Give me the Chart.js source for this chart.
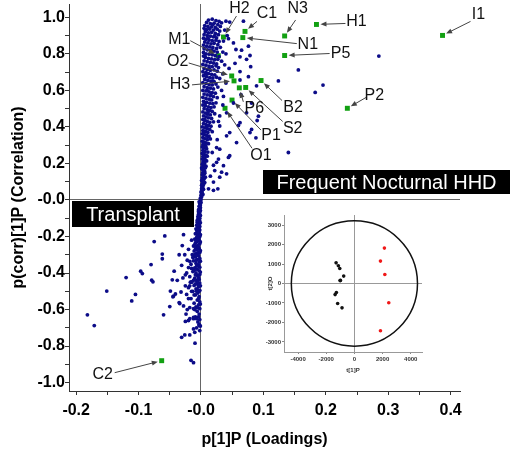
<!DOCTYPE html>
<html>
<head>
<meta charset="utf-8">
<script src="https://cdn.jsdelivr.net/npm/chart.js@4/dist/chart.umd.min.js"></script>
<style>
  html, body { margin: 0; padding: 0; background: #fff; }
  #wrap { position: relative; width: 513px; height: 453px; }
  #main { position: absolute; left: 0; top: 0; }
  #inset { position: absolute; left: 255px; top: 205px; }
</style>
</head>
<body>
<div id="wrap">
  <canvas id="main" width="513" height="453"></canvas>
  <canvas id="inset" width="175" height="180"></canvas>
</div>
<script>
// ---- data read from the S-plot ----
// dense band of variables around p[1]P = 0
var bandPoints = [
    [0.012,0.985],[0.018,0.99],[0.024,0.982],[0.029,0.978],[0.033,0.97],[0.009,0.972],[0.015,0.965],[0.021,0.968],[0.027,0.96],[0.006,0.955],[0.011,0.95],[0.017,0.948],[0.023,0.945],[0.031,0.95],
    [0.005,0.94],[0.009,0.932],[0.014,0.936],[0.02,0.93],[0.026,0.935],[0.03,0.925],[0.007,0.92],[0.012,0.915],[0.017,0.918],[0.023,0.912],[0.028,0.905],[0.005,0.905],[0.01,0.9],[0.015,0.897],
    [0.02,0.893],[0.025,0.888],[0.004,0.886],[0.008,0.88],[0.013,0.876],[0.018,0.872],[0.024,0.875],[0.029,0.868],[0.006,0.865],[0.011,0.86],[0.016,0.855],[0.021,0.858],[0.027,0.85],[0.004,0.848],
    [0.009,0.842],[0.014,0.838],[0.019,0.835],[0.025,0.83],[0.031,0.836],[0.005,0.828],[0.01,0.822],[0.015,0.818],[0.021,0.815],[0.026,0.81],[0.004,0.808],[0.008,0.8],[0.013,0.798],[0.018,0.795],[0.035,0.81],
    [0.023,0.79],[0.029,0.785],[0.004,0.788],[0.007,0.78],[0.012,0.775],[0.017,0.772],[0.022,0.768],[0.027,0.77],[0.005,0.762],[0.01,0.757],[0.015,0.753],[0.02,0.75],[0.033,0.76],
    [0.003,0.742],[0.008,0.738],[0.013,0.733],[0.018,0.73],[0.024,0.735],[0.028,0.725],[0.005,0.72],[0.01,0.715],[0.015,0.71],[0.021,0.712],[0.026,0.705],[0.003,0.702],[0.008,0.698],
    [0.012,0.692],[0.017,0.688],[0.022,0.685],[0.004,0.68],[0.009,0.675],[0.014,0.67],[0.019,0.668],[0.025,0.672],[0.03,0.665],[0.006,0.66],[0.011,0.655],[0.016,0.65],[0.021,0.648],
    [0.003,0.642],[0.008,0.638],[0.013,0.632],[0.018,0.63],[0.024,0.635],[0.005,0.62],[0.01,0.615],[0.015,0.612],[0.02,0.608],[0.027,0.618],[0.003,0.6],[0.008,0.597],[0.013,0.592],
    [0.018,0.588],[0.023,0.585],[0.005,0.58],[0.01,0.575],[0.015,0.57],[0.02,0.566],[0.003,0.562],[0.008,0.556],[0.013,0.552],[0.017,0.548],[0.026,0.56],
    [0.004,0.54],[0.009,0.535],[0.014,0.53],[0.019,0.527],[0.024,0.532],[0.003,0.52],[0.007,0.515],[0.012,0.51],[0.016,0.506],[0.021,0.51],[0.005,0.5],[0.01,0.495],
    [0.014,0.49],[0.018,0.485],[0.003,0.482],[0.007,0.476],[0.011,0.47],[0.015,0.466],[0.022,0.472],[0.004,0.46],[0.008,0.455],[0.012,0.45],[0.017,0.446],
    [0.003,0.44],[0.006,0.434],[0.01,0.43],[0.014,0.425],[0.02,0.428],[0.004,0.418],[0.008,0.412],[0.012,0.408],[0.016,0.404],[0.002,0.4],[0.006,0.395],
    [0.01,0.39],[0.014,0.386],[0.003,0.38],[0.007,0.375],[0.011,0.37],[0.018,0.374],[0.002,0.362],[0.005,0.358],[0.009,0.353],[0.013,0.35],
    [0.003,0.342],[0.006,0.336],[0.01,0.33],[0.015,0.334],[0.002,0.322],[0.005,0.317],[0.008,0.312],[0.012,0.308],[0.003,0.302],[0.007,0.298],
    [0.019,0.96],[0.007,0.93],[0.022,0.9],[0.011,0.885],[0.017,0.82],[0.006,0.79],[0.025,0.745],[0.013,0.72],[0.007,0.69],[0.019,0.65],
    [0.01,0.6],[0.016,0.58],[0.007,0.53],[0.011,0.48],[0.006,0.44],[0.009,0.4],[0.005,0.37],[0.011,0.345],[0.004,0.31],
    [0.002,0.29],[0.005,0.285],[0.009,0.28],[0.003,0.272],[0.006,0.266],[0.011,0.262],[0.002,0.255],[0.005,0.25],[0.008,0.245],[0.003,0.238],[0.006,0.232],[0.002,0.224],[0.005,0.218],[0.009,0.214],[0.003,0.208],[0.006,0.202],
    [0.008,0.29],[0.004,0.26],[0.01,0.24],[0.007,0.22],[0.004,0.2],[0.008,0.185],[0.001,0.175],[0.006,0.155],[0.004,0.14],[0.007,0.125],[0.003,0.11],[0.006,0.095],[0.004,0.085],[0.002,0.068],[0.004,0.058],[0.001,0.04],[0.003,0.03],
    [0.002,0.195],[0.005,0.19],[0.003,0.18],[0.007,0.176],[0.002,0.168],[0.005,0.162],[0.003,0.152],[0.006,0.146],[0.002,0.138],[0.004,0.13],[0.002,0.12],[0.005,0.115],[0.001,0.106],[0.004,0.1],[0.002,0.09],[0.001,0.08],[0.003,0.072],[0.001,0.062],[0.002,0.052],[0.0,0.044],[0.002,0.036],[0.0,0.026],[0.001,0.018],[-0.001,0.01],[0.0,0.003],
    [-0.001,-0.006],[0.0,-0.014],[-0.002,-0.02],[-0.001,-0.028],[-0.003,-0.035],[-0.001,-0.042],[-0.003,-0.05],[-0.001,-0.058],[-0.004,-0.064],[-0.002,-0.07],[-0.004,-0.078],[-0.001,-0.085],[-0.005,-0.092],[-0.002,-0.1],[-0.005,-0.108],[-0.002,-0.115],[-0.006,-0.122],[-0.003,-0.13],[-0.007,-0.138],[-0.002,-0.145],
    [-0.005,-0.152],[-0.008,-0.158],[-0.002,-0.165],[-0.006,-0.172],[-0.003,-0.18],[-0.009,-0.185],[-0.005,-0.192],[-0.002,-0.2],[-0.007,-0.207],[-0.01,-0.214],[-0.003,-0.22],[-0.006,-0.228],[-0.009,-0.235],[-0.002,-0.24],[-0.005,-0.248],[-0.012,-0.252],[-0.008,-0.26],[-0.003,-0.266],[-0.006,-0.274],[-0.011,-0.28],
    [-0.002,-0.287],[-0.007,-0.293],[-0.014,-0.3],[-0.004,-0.306],[-0.009,-0.312],[-0.002,-0.32],[-0.006,-0.327],[-0.012,-0.333],[-0.003,-0.34],[-0.008,-0.347],[-0.016,-0.352],[-0.005,-0.36],[-0.002,-0.368],[-0.01,-0.372],[-0.006,-0.38],[-0.003,-0.388],[-0.013,-0.392],[-0.008,-0.4],[-0.002,-0.408],[-0.005,-0.415],
    [-0.018,-0.42],[-0.01,-0.428],[-0.003,-0.435],[-0.007,-0.442],[-0.015,-0.448],[-0.002,-0.455],[-0.005,-0.462],[-0.011,-0.468],[-0.004,-0.475],[-0.02,-0.48],[-0.008,-0.487],[-0.002,-0.495],[-0.013,-0.5],[-0.005,-0.51],[-0.009,-0.52],[-0.003,-0.53],[-0.016,-0.54],[-0.006,-0.548],[-0.002,-0.558],[-0.011,-0.565],
    [-0.004,-0.575],[-0.008,-0.585],[-0.002,-0.595],[-0.006,-0.61],[-0.003,-0.625],[-0.009,-0.64],[-0.002,-0.655],[-0.005,-0.668],[-0.003,-0.68],[-0.007,-0.7],[-0.002,-0.715],
    [-0.003,-0.01],[-0.002,-0.048],[-0.004,-0.1],[-0.003,-0.16],[-0.004,-0.21],[-0.01,-0.245],[-0.004,-0.29],[-0.013,-0.315],[-0.008,-0.33],[-0.004,-0.355],[-0.015,-0.375],[-0.007,-0.41],[-0.012,-0.44],[-0.005,-0.45],[-0.009,-0.46],[-0.018,-0.47],[-0.006,-0.49],[-0.003,-0.5],
    [-0.002,-0.03],[-0.004,-0.055],[-0.003,-0.09],[-0.006,-0.112],[-0.001,-0.125],[-0.004,-0.14],[-0.007,-0.165],[-0.004,-0.178],[-0.001,-0.19],[-0.006,-0.2],[-0.008,-0.222],[-0.001,-0.23],[-0.004,-0.258],[-0.009,-0.27],[-0.001,-0.278],[-0.005,-0.3],[-0.01,-0.3],
    [-0.001,-0.335],[-0.007,-0.362],[-0.011,-0.385],[-0.001,-0.395],[-0.004,-0.425],[-0.009,-0.41],[-0.001,-0.47],[-0.007,-0.5],[-0.011,-0.52],[-0.004,-0.54],[-0.001,-0.57],[-0.006,-0.59],[-0.01,-0.6],[-0.004,-0.64],[-0.001,-0.69]
];

// sparse variables away from the band
var scatterPoints = [
    [0.285,0.788],[0.156,0.712],[0.124,0.652],[0.1955,0.629],[0.183,0.589],[0.09,0.435],[0.081,0.386],[0.088,0.34],[0.14,0.26],[0.0785,0.791],[0.0796,0.73],
    [0.068,0.979],[0.046,0.974],[0.044,0.883],[0.052,0.86],[0.056,0.824],[0.065,0.82],[0.073,0.77],[0.0545,0.748],[0.0625,0.703],[0.076,0.675],[0.089,0.625],
    [0.064,0.576],[0.081,0.531],[0.073,0.477],[0.092,0.459],[0.06,0.408],[0.046,0.369],[0.0785,0.369],[0.04,0.979],[0.076,0.842],[0.0625,0.784],[0.0625,0.657],
    [0.036,0.567],[0.052,0.531],[0.041,0.477],[0.0625,0.423],[0.03,0.405],[0.041,0.351],[0.057,0.314],[0.03,0.278],[0.046,0.242],[0.025,0.206],[0.033,0.152],
    [0.02,0.098],[0.012,0.061],[0.025,0.287],[0.028,0.224],[0.044,0.233],[0.036,0.188],[0.022,0.161],[0.041,0.143],[0.03,0.125],[0.027,0.061],[0.02,0.053],
    [0.038,0.93],[0.042,0.9],[0.036,0.87],[0.04,0.8],[0.038,0.74],[0.045,0.72],[0.035,0.69],[0.04,0.64],[0.033,0.6],[0.035,0.52],[0.03,0.46],[0.028,0.43],
    [0.026,0.33],[0.018,0.26],[0.02,0.19],[0.015,0.13],
    [-0.075,-0.228],[-0.058,-0.197],[-0.062,-0.296],[-0.062,-0.322],[-0.08,-0.354],[-0.0966,-0.39],[-0.094,-0.403],[-0.079,-0.439],[-0.077,-0.448],[-0.12,-0.425],
    [-0.151,-0.499],[-0.105,-0.517],[-0.111,-0.553],[-0.182,-0.629],[-0.171,-0.688],[-0.06,-0.629],[-0.043,-0.39],[-0.046,-0.437],[-0.049,-0.499],[-0.044,-0.526],
    [-0.05,-0.584],[-0.034,-0.567],[-0.031,-0.358],[-0.029,-0.427],[-0.031,-0.752],[-0.026,-0.739],[-0.018,-0.739],[-0.0096,-0.784],[-0.016,-0.878],[-0.012,-0.891],
    [-0.041,-0.515],[-0.045,-0.53],[-0.032,-0.504],[-0.035,-0.562],[-0.024,-0.625],[-0.022,-0.6],[-0.012,-0.595],[-0.018,-0.65],[-0.012,-0.65],[-0.007,-0.65],
    [-0.003,-0.688],[-0.012,-0.706],[-0.01,-0.725],[-0.02,-0.54],[-0.025,-0.47],[-0.022,-0.33],[-0.035,-0.3],[-0.03,-0.25],[-0.028,-0.19],[-0.02,-0.27],
    [-0.015,-0.22],[-0.02,-0.37],[-0.025,-0.41],[-0.017,-0.45],[-0.015,-0.5],[-0.028,-0.58],[-0.038,-0.44],[-0.025,-0.665],[-0.026,-0.3],[-0.018,-0.336],
    [-0.023,-0.4],[-0.015,-0.45],[-0.023,-0.517],[-0.018,-0.589],[-0.012,-0.643],[-0.02,-0.66]
];

// named (highlighted) variables
var markedNames = ['I1', 'H1', 'N3', 'N1', 'C1', 'P5', 'H2', 'M1', 'O2', 'H3', 'B2', 'S2', 'P6', 'P1', 'O1', 'P2', 'C2'];
var markedX = [0.387, 0.185, 0.134, 0.067, 0.0705, 0.134, 0.036, 0.0277, 0.0492, 0.0529, 0.0962, 0.0716, 0.0614, 0.0497, 0.0385, 0.2345, -0.063];
var markedY = [0.901, 0.961, 0.898, 0.889, 0.923, 0.791, 0.892, 0.79, 0.679, 0.652, 0.654, 0.616, 0.614, 0.547, 0.502, 0.502, -0.88];

var xTickValues = [-0.2, -0.15, -0.1, -0.05, 0, 0.05, 0.1, 0.15, 0.2, 0.25, 0.3, 0.35, 0.4];
var yTickValues = [-1.0, -0.9, -0.8, -0.7, -0.6, -0.5, -0.4, -0.3, -0.2, -0.1, 0, 0.1, 0.2, 0.3, 0.4, 0.5, 0.6, 0.7, 0.8, 0.9, 1.0];

// inset score plot t[1]P / t[2]O
var insetBlackX = [-1300, -1140, -1040, -760, -1020, -990, -1280, -1370, -1190, -880];
var insetBlackY = [1060, 910, 770, 380, 150, 160, -460, -570, -1030, -1250];
var insetRedX = [2130, 1850, 2160, 2440, 1850];
var insetRedY = [1820, 1150, 460, -990, -2430];
var insetXTicks = [-4000, -2000, 0, 2000, 4000];
var insetYTicks = [-3000, -2000, -1000, 0, 1000, 2000, 3000];
var ellipseRx = 4480;
var ellipseRy = 3220;

// ---- layout / style ----
var FONT = 'Liberation Sans, Arial, sans-serif';

// label offset [dx, dy] and arrow tail [dx, dy], in pixels from the marked point
var callouts = {
    I1: [36, -21, 28, -14], H1: [40, -3, 29, -1], N3: [13, -27, 11, -16], N1: [65, 7, 54, 6],
    C1: [22, -18, 12, -10], P5: [56, -2, 45, -2], H2: [16, -28, 13, -21], M1: [-39, -16, -28, -15],
    O2: [-54, -14, -43, -13], H3: [-54, 4, -42, 4], B2: [32, 27, 21, 20], S2: [47, 41, 37, 34],
    P6: [15, 21, 4, 14], P1: [39, 36, 29, 30], O1: [36, 47, 27, 40], P2: [27, -13, 19, -11],
    C2: [-59, 14, -47, 12]
};

var boxes = [
    { text: 'Frequent Nocturnal HHD', left: 263, top: 170, right: 510, bottom: 194 },
    { text: 'Transplant', left: 72, top: 201, right: 194, bottom: 227 }
];

function toXY(pairs) {
    return pairs.map(function(p) { return { x: p[0], y: p[1] }; });
}

function zeroLine(color) {
    return function(ctx) {
        return ctx.tick && ctx.tick.value === 0 ? color : 'rgba(0,0,0,0)';
    };
}

// keep the plot area flush with the axis box (no room reserved for end labels)
function noEndPadding(s) {
    s.paddingTop = 0;
    s.paddingBottom = 0;
    s.paddingLeft = 0;
    s.paddingRight = 0;
}

function arrow(ctx, x1, y1, x2, y2) {
    var a = Math.atan2(y2 - y1, x2 - x1);
    ctx.beginPath();
    ctx.moveTo(x1, y1);
    ctx.lineTo(x2 - 4 * Math.cos(a), y2 - 4 * Math.sin(a));
    ctx.stroke();
    ctx.beginPath();
    ctx.moveTo(x2, y2);
    ctx.lineTo(x2 - 6 * Math.cos(a) + 2.5 * Math.sin(a), y2 - 6 * Math.sin(a) - 2.5 * Math.cos(a));
    ctx.lineTo(x2 - 6 * Math.cos(a) - 2.5 * Math.sin(a), y2 - 6 * Math.sin(a) + 2.5 * Math.cos(a));
    ctx.closePath();
    ctx.fill();
}

var annotate = {
    id: 'annotate',
    afterDatasetsDraw: function(chart) {
        var ctx = chart.ctx;
        var xs = chart.scales.x, ys = chart.scales.y;
        ctx.save();
        ctx.strokeStyle = '#444';
        ctx.fillStyle = '#444';
        ctx.lineWidth = 1;
        markedNames.forEach(function(name, i) {
            var c = callouts[name];
            var px = xs.getPixelForValue(markedX[i]);
            var py = ys.getPixelForValue(markedY[i]);
            var tx = px + c[2], ty = py + c[3];
            var len = Math.sqrt(c[2] * c[2] + c[3] * c[3]);
            arrow(ctx, tx, ty, px + c[2] / len * 4, py + c[3] / len * 4);
        });
        ctx.fillStyle = '#111';
        ctx.font = '16px ' + FONT;
        ctx.textAlign = 'center';
        ctx.textBaseline = 'middle';
        markedNames.forEach(function(name, i) {
            var c = callouts[name];
            var px = xs.getPixelForValue(markedX[i]);
            var py = ys.getPixelForValue(markedY[i]);
            ctx.fillText(name, px + c[0], py + c[1]);
        });
        ctx.font = '20px ' + FONT;
        boxes.forEach(function(b) {
            ctx.fillStyle = '#000';
            ctx.fillRect(b.left, b.top, b.right - b.left, b.bottom - b.top);
            ctx.fillStyle = '#fff';
            ctx.fillText(b.text, (b.left + b.right) / 2, (b.top + b.bottom) / 2 + 1);
        });
        ctx.restore();
    }
};

var tickFont = { family: FONT, size: 16, weight: 'bold' };
var titleFont = { family: FONT, size: 16, weight: 'bold' };

new Chart(document.getElementById('main'), {
    type: 'scatter',
    data: {
        datasets: [{
            data: toXY(bandPoints).concat(toXY(scatterPoints)),
            backgroundColor: '#0c0c88',
            borderWidth: 0,
            pointRadius: 1.9
        }, {
            data: markedX.map(function(x, i) { return { x: x, y: markedY[i] }; }),
            backgroundColor: '#12a012',
            borderWidth: 0,
            pointStyle: 'rect',
            pointRadius: 3.5
        }]
    },
    options: {
        responsive: false,
        animation: false,
        layout: { padding: { left: 0, top: 0, right: 53, bottom: 0 } },
        plugins: { legend: { display: false }, tooltip: { enabled: false } },
        scales: {
            x: {
                type: 'linear',
                min: -0.2115,
                max: 0.415,
                afterBuildTicks: function(s) { s.ticks = xTickValues.map(function(v) { return { value: v }; }); },
                afterFit: function(s) { s.height = 62; noEndPadding(s); },
                grid: { color: zeroLine('#666'), tickColor: '#333', tickLength: 4 },
                border: { color: '#333' },
                ticks: {
                    autoSkip: false, maxRotation: 0, padding: 6, color: '#000', font: tickFont,
                    callback: function(v) {
                        if (Math.round(v * 100) % 10 !== 0) return '';
                        return v === 0 ? '-0.0' : v.toFixed(1);
                    }
                },
                title: { display: true, text: 'p[1]P (Loadings)', color: '#000', font: titleFont, padding: { top: 0, bottom: 4 } }
            },
            y: {
                type: 'linear',
                min: -1.046,
                max: 1.073,
                afterBuildTicks: function(s) { s.ticks = yTickValues.map(function(v) { return { value: v }; }); },
                afterFit: function(s) { s.width = 69; noEndPadding(s); },
                grid: { color: zeroLine('#666'), tickColor: '#333', tickLength: 4 },
                border: { color: '#333' },
                ticks: {
                    autoSkip: false, padding: 0, color: '#000', font: tickFont,
                    callback: function(v) {
                        if (Math.round(v * 10) % 2 !== 0) return '';
                        return v === 0 ? '-0.0' : v.toFixed(1);
                    }
                },
                title: { display: true, text: 'p(corr)[1]P (Correlation)', color: '#000', font: titleFont, padding: { top: 9, bottom: 0 } }
            }
        }
    },
    plugins: [annotate]
});

// ---- inset score plot ----
var ellipse = {
    id: 'ellipse',
    beforeDatasetsDraw: function(chart) {
        var ctx = chart.ctx;
        var xs = chart.scales.x, ys = chart.scales.y;
        var cx = xs.getPixelForValue(0), cy = ys.getPixelForValue(0);
        ctx.save();
        ctx.strokeStyle = '#111';
        ctx.lineWidth = 1.5;
        ctx.beginPath();
        ctx.ellipse(cx, cy, xs.getPixelForValue(ellipseRx) - cx, cy - ys.getPixelForValue(ellipseRy), 0, 0, Math.PI * 2);
        ctx.stroke();
        ctx.restore();
    }
};

var insetTickFont = { family: FONT, size: 6, weight: 'bold' };
var plainNumber = function(v) { return String(v); };

new Chart(document.getElementById('inset'), {
    type: 'scatter',
    data: {
        datasets: [{
            data: insetBlackX.map(function(x, i) { return { x: x, y: insetBlackY[i] }; }),
            backgroundColor: '#111',
            borderWidth: 0,
            pointRadius: 1.8
        }, {
            data: insetRedX.map(function(x, i) { return { x: x, y: insetRedY[i] }; }),
            backgroundColor: '#f01818',
            borderWidth: 0,
            pointRadius: 1.8
        }]
    },
    options: {
        responsive: false,
        animation: false,
        layout: { padding: { left: 0, top: 10, right: 8, bottom: 0 } },
        plugins: { legend: { display: false }, tooltip: { enabled: false } },
        scales: {
            x: {
                type: 'linear',
                min: -5000,
                max: 4800,
                afterBuildTicks: function(s) { s.ticks = insetXTicks.map(function(v) { return { value: v }; }); },
                afterFit: function(s) { s.height = 33; noEndPadding(s); },
                grid: { color: zeroLine('#999'), tickColor: '#888', tickLength: 2 },
                border: { color: '#999' },
                ticks: { autoSkip: false, maxRotation: 0, padding: 2, color: '#333', font: insetTickFont, callback: plainNumber },
                title: { display: true, text: 't[1]P', color: '#333', font: insetTickFont, padding: { top: 0, bottom: 11 } }
            },
            y: {
                type: 'linear',
                min: -3520,
                max: 3520,
                afterBuildTicks: function(s) { s.ticks = insetYTicks.map(function(v) { return { value: v }; }); },
                afterFit: function(s) { s.width = 29; noEndPadding(s); },
                grid: { color: zeroLine('#999'), tickColor: '#888', tickLength: 2 },
                border: { color: '#999' },
                ticks: { autoSkip: false, padding: 1, color: '#333', font: insetTickFont, callback: plainNumber },
                title: { display: true, text: 't[2]O', color: '#333', font: insetTickFont, padding: { top: 12, bottom: 0 } }
            }
        }
    },
    plugins: [ellipse]
});
</script>
</body>
</html>
